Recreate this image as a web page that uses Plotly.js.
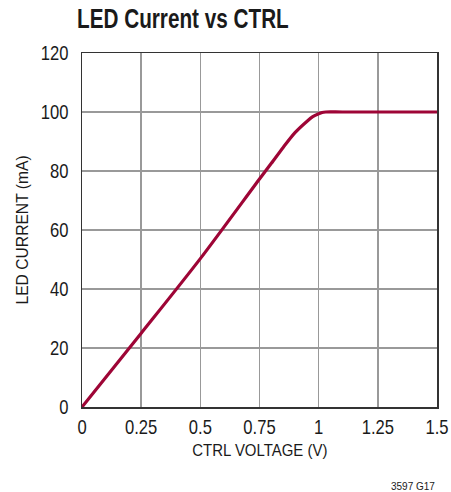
<!DOCTYPE html>
<html>
<head>
<meta charset="utf-8">
<script src="https://cdn.plot.ly/plotly-3.0.1.min.js"></script>
<style>html,body{margin:0;padding:0;background:#fff;}#chart{width:451px;height:492px;}</style>
</head>
<body>
<div id="chart"></div>
<script>
const ctrlVoltage = [0, 0.25, 0.5, 0.75, 0.8, 0.85, 0.9, 0.95, 0.975, 1.0, 1.015, 1.03, 1.1, 1.5];
const ledCurrent  = [0, 25, 50.3, 77.3, 82.6, 88, 93, 96.8, 98.4, 99.4, 99.85, 100, 100, 100];
const xTicks = [0, 0.25, 0.5, 0.75, 1, 1.25, 1.5];
const xTickLabels = ['0', '0.25', '0.5', '0.75', '1', '1.25', '1.5'];
const yTicks = [0, 20, 40, 60, 80, 100, 120];
const yTickLabels = ['0', '20', '40', '60', '80', '100', '120'];

const sans = '"Liberation Sans", Arial, Helvetica, sans-serif';

const trace = {
  x: ctrlVoltage, y: ledCurrent, type: 'scatter', mode: 'lines',
  line: {color: '#9E0536', width: 3.2, shape: 'spline', smoothing: 0.8},
  hoverinfo: 'skip'
};

const layout = {
  width: 451, height: 492,
  margin: {l: 82, r: 14, t: 53, b: 85},
  paper_bgcolor: '#fff', plot_bgcolor: '#fff',
  showlegend: false,
  title: {text: '<b>LED Current vs CTRL</b>', x: 77/451, xanchor: 'left', y: 1 - 18/492, yanchor: 'middle',
          font: {family: sans, size: 28, color: '#1a1a1a'}},
  xaxis: {
    range: [0, 1.5], tickvals: xTicks, ticktext: xTickLabels,
    showgrid: true, gridcolor: '#999', gridwidth: 1.5,
    zeroline: false, showline: true, linecolor: '#333', linewidth: 1.5, mirror: true,
    ticks: 'outside', ticklen: 2, tickcolor: 'rgba(0,0,0,0)',
    tickfont: {family: sans, size: 20, color: '#1a1a1a'}
  },
  yaxis: {
    range: [0, 120], tickvals: yTicks, ticktext: yTickLabels,
    showgrid: true, gridcolor: '#999', gridwidth: 1.5,
    zeroline: false, showline: true, linecolor: '#333', linewidth: 1.5, mirror: true,
    ticks: 'outside', ticklen: 8, tickcolor: 'rgba(0,0,0,0)',
    tickfont: {family: sans, size: 20, color: '#1a1a1a'}
  },
  annotations: [
    {text: 'LED CURRENT (mA)', xref: 'paper', yref: 'paper', x: -60/355, y: 0.5,
     xanchor: 'center', yanchor: 'middle', textangle: -90, showarrow: false,
     font: {family: sans, size: 17, color: '#1a1a1a'}},
    {text: 'CTRL VOLTAGE (V)', xref: 'paper', yref: 'paper', x: 0.5, y: -43/354,
     xanchor: 'center', yanchor: 'middle', showarrow: false,
     font: {family: sans, size: 17, color: '#1a1a1a'}},
    {text: '3597 G17', xref: 'paper', yref: 'paper', x: 1, y: -80/354,
     xanchor: 'right', yanchor: 'middle', showarrow: false,
     font: {family: sans, size: 10, color: '#1a1a1a'}}
  ]
};

// condense text horizontally (the original uses a condensed Helvetica)
function condense(el, s) {
  const x = parseFloat(el.getAttribute('x') || 0);
  const y = parseFloat(el.getAttribute('y') || 0);
  const t = el.getAttribute('transform') || '';
  el.setAttribute('transform', t + ` translate(${x},${y}) scale(${s},1) translate(${-x},${-y})`);
}

Plotly.newPlot('chart', [trace], layout, {displayModeBar: false, staticPlot: true}).then(gd => {
  const t = gd.querySelector('.gtitle');
  if (t) condense(t, 0.74);
  gd.querySelectorAll('.xtick text, .ytick text').forEach(e => condense(e, 0.83));
  const ann = gd.querySelectorAll('.annotation-text');
  if (ann[0]) condense(ann[0], 0.92);
  if (ann[1]) condense(ann[1], 0.88);
});
</script>
</body>
</html>
